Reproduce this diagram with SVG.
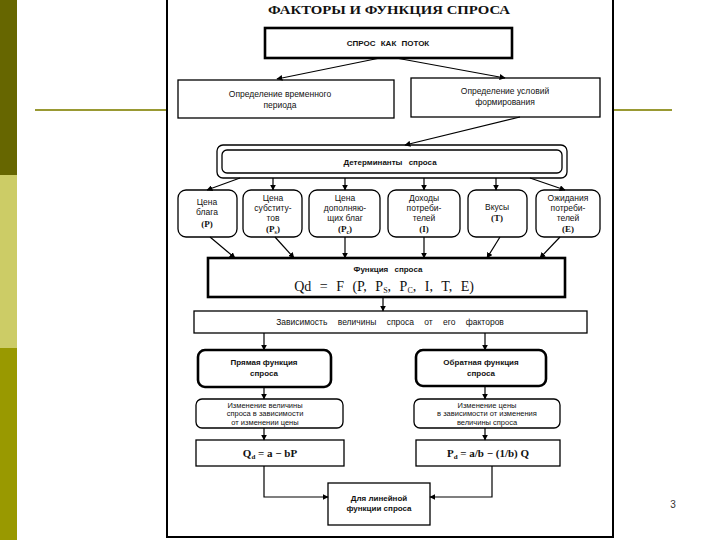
<svg xmlns="http://www.w3.org/2000/svg" width="720" height="540" viewBox="0 0 720 540">
<defs>
<marker id="ah" viewBox="0 0 10 10" refX="9" refY="5" markerWidth="6" markerHeight="6" orient="auto-start-reverse" markerUnits="userSpaceOnUse">
<path d="M0,0 L10,5 L0,10 z" fill="#000"/>
</marker>
<style>
.box{fill:#fff;stroke:#000;stroke-width:1.3}
.thick{fill:#fff;stroke:#000;stroke-width:2.6}
.t{font-family:"Liberation Sans",Arial,sans-serif;font-size:8.5px;fill:#111;text-anchor:middle}
.sm{font-family:"Liberation Sans",Arial,sans-serif;font-size:7.5px;fill:#111;text-anchor:middle}
.b{font-family:"Liberation Sans",Arial,sans-serif;font-size:8px;font-weight:bold;fill:#111;text-anchor:middle}
.s{font-family:"Liberation Serif","Times New Roman",serif;font-weight:bold;fill:#111;text-anchor:middle}
.n{font-family:"Liberation Serif","Times New Roman",serif;font-weight:normal;fill:#111;text-anchor:middle}
.c line,.c path,.c polyline{stroke:#000;stroke-width:1.2;fill:none;marker-end:url(#ah)}
</style>
</defs>
<rect width="720" height="540" fill="#fff"/>
<g id="decor">
<rect x="0" y="0" width="17" height="175" fill="#666600"/>
<rect x="0" y="175" width="17" height="173" fill="#cccc66"/>
<rect x="0" y="348" width="17" height="192" fill="#999900"/>
<line x1="35" y1="110" x2="167" y2="110" stroke="#999933" stroke-width="2"/>
<line x1="614" y1="110" x2="672" y2="110" stroke="#999933" stroke-width="2"/>
<text x="673" y="508" font-family="Liberation Sans,Arial,sans-serif" font-size="10" fill="#333" text-anchor="middle">3</text>
</g>
<rect x="167" y="-2" width="446" height="539" fill="#fff" stroke="#000" stroke-width="2"/>
<text x="389" y="14" class="s" font-size="12" textLength="242" lengthAdjust="spacingAndGlyphs">ФАКТОРЫ И ФУНКЦИЯ СПРОСА</text>

<g id="flow">
<rect class="thick" x="265" y="28" width="247" height="30"/>
<text class="b" x="388" y="46" word-spacing="3">СПРОС КАК ПОТОК</text>
</g>
<g id="period">
<rect class="box" x="178" y="80" width="216" height="38"/>
<text class="t" x="280" y="97">Определение временного</text>
<text class="t" x="280" y="108">периода</text>
</g>
<g id="conditions">
<rect class="box" x="411" y="78" width="189" height="39"/>
<text class="t" x="505" y="94">Определение условий</text>
<text class="t" x="505" y="105">формирования</text>
</g>
<g id="determinants">
<rect x="217" y="145" width="350" height="33" rx="6" fill="#fff" stroke="#000" stroke-width="1.3"/>
<rect x="222" y="150" width="340" height="23" rx="5" fill="#fff" stroke="#000" stroke-width="1.3"/>
<text class="b" x="390" y="165" word-spacing="4">Детерминанты спроса</text>
</g>
<g id="f1">
<rect class="box" x="178" y="190" width="59" height="47" rx="8"/>
<text class="t" x="207" y="205">Цена</text>
<text class="t" x="207" y="215">блага</text>
<text class="s" x="207" y="227" font-size="9">(P)</text>
</g>
<g id="f2">
<rect class="box" x="243" y="190" width="59" height="47" rx="8"/>
<text class="t" x="273" y="201">Цена</text>
<text class="t" x="273" y="211">субститу-</text>
<text class="t" x="273" y="221">тов</text>
<text class="s" x="273" y="232" font-size="9">(P<tspan font-size="6" dy="2">s</tspan><tspan dy="-2">)</tspan></text>
</g>
<g id="f3">
<rect class="box" x="309" y="190" width="71" height="47" rx="8"/>
<text class="t" x="345" y="201">Цена</text>
<text class="t" x="345" y="211">дополняю-</text>
<text class="t" x="345" y="221">щих благ</text>
<text class="s" x="345" y="232" font-size="9">(P<tspan font-size="6" dy="2">c</tspan><tspan dy="-2">)</tspan></text>
</g>
<g id="f4">
<rect class="box" x="388" y="190" width="72" height="47" rx="8"/>
<text class="t" x="424" y="201">Доходы</text>
<text class="t" x="424" y="211">потреби-</text>
<text class="t" x="424" y="221">телей</text>
<text class="s" x="424" y="232" font-size="9">(I)</text>
</g>
<g id="f5">
<rect class="box" x="468" y="190" width="59" height="47" rx="8"/>
<text class="t" x="497" y="210">Вкусы</text>
<text class="s" x="497" y="221" font-size="9">(T)</text>
</g>
<g id="f6">
<rect class="box" x="536" y="190" width="64" height="47" rx="8"/>
<text class="t" x="568" y="201">Ожидания</text>
<text class="t" x="568" y="211">потреби-</text>
<text class="t" x="568" y="221">телей</text>
<text class="s" x="568" y="232" font-size="9">(E)</text>
</g>
<g id="function">
<rect class="thick" x="208" y="258" width="357" height="39"/>
<text class="b" x="388" y="272" word-spacing="4">Функция спроса</text>
<text class="n" x="384" y="291" font-size="14" word-spacing="5">Qd = F (P, P<tspan font-size="8" dy="2">S</tspan><tspan dy="-2">, P</tspan><tspan font-size="8" dy="2">C</tspan><tspan dy="-2">, I, T, E)</tspan></text>
</g>
<g id="dependence">
<rect class="box" x="194" y="311" width="393" height="22"/>
<text class="t" x="390" y="325" font-size="9" word-spacing="8">Зависимость величины спроса от его факторов</text>
</g>
<g id="direct">
<rect class="thick" x="198" y="350" width="133" height="37" rx="7"/>
<text class="b" x="264" y="365">Прямая функция</text>
<text class="b" x="264" y="376">спроса</text>
</g>
<g id="inverse">
<rect class="thick" x="416" y="350" width="130" height="36" rx="7"/>
<text class="b" x="481" y="365">Обратная функция</text>
<text class="b" x="481" y="376">спроса</text>
</g>
<g id="change1">
<rect class="box" x="196" y="399" width="147" height="29" rx="6"/>
<text class="sm" x="265" y="407.5">Изменение величины</text>
<text class="sm" x="265" y="416.2">спроса в зависимости</text>
<text class="sm" x="265" y="424.9">от изменении цены</text>
</g>
<g id="change2">
<rect class="box" x="414" y="399" width="146" height="29" rx="6"/>
<text class="sm" x="487" y="407.5">Изменение цены</text>
<text class="sm" x="487" y="416.2">в зависимости от изменения</text>
<text class="sm" x="487" y="424.9">величины спроса</text>
</g>
<g id="eq1">
<rect class="box" x="196" y="440" width="148" height="26"/>
<text class="s" x="270" y="457" font-size="11">Q<tspan font-size="7" dy="2">d</tspan><tspan dy="-2"> = a − bP</tspan></text>
</g>
<g id="eq2">
<rect class="box" x="416" y="440" width="144" height="26"/>
<text class="s" x="488" y="457" font-size="11">P<tspan font-size="7" dy="2">d</tspan><tspan dy="-2"> = a/b − (1/b) Q</tspan></text>
</g>
<g id="linear">
<rect class="box" x="328" y="483" width="102" height="42"/>
<text class="b" x="379" y="501">Для линейной</text>
<text class="b" x="379" y="511">функции спроса</text>
</g>

<g id="connectors" class="c">
<line x1="380" y1="58" x2="277" y2="79"/>
<line x1="396" y1="58" x2="505" y2="78"/>
<line x1="520" y1="117" x2="405" y2="145"/>
<line x1="240" y1="178" x2="207" y2="190"/>
<line x1="273" y1="178" x2="273" y2="190"/>
<line x1="345" y1="178" x2="345" y2="190"/>
<line x1="424" y1="178" x2="424" y2="190"/>
<line x1="496" y1="178" x2="496" y2="190"/>
<line x1="530" y1="178" x2="565" y2="190"/>
<line x1="210" y1="237" x2="235" y2="258"/>
<line x1="275" y1="237" x2="294" y2="258"/>
<line x1="345" y1="237" x2="345" y2="258"/>
<line x1="424" y1="237" x2="424" y2="258"/>
<line x1="500" y1="237" x2="487" y2="258"/>
<line x1="560" y1="237" x2="540" y2="258"/>
<line x1="383" y1="297" x2="383" y2="311"/>
<line x1="264" y1="333" x2="264" y2="350"/>
<line x1="485" y1="333" x2="485" y2="350"/>
<line x1="264" y1="387" x2="264" y2="399"/>
<line x1="485" y1="386" x2="485" y2="399"/>
<line x1="264" y1="428" x2="264" y2="440"/>
<line x1="485" y1="428" x2="485" y2="440"/>
<polyline points="264,466 264,497 328,497"/>
<polyline points="492,466 492,497 430,497"/>
</g>
</svg>
